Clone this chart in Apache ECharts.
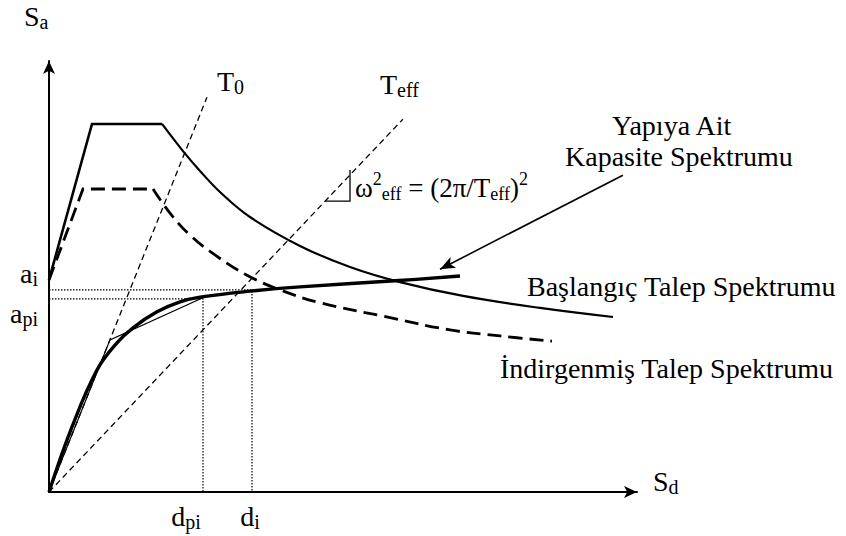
<!DOCTYPE html>
<html>
<head>
<meta charset="utf-8">
<script src="https://cdn.jsdelivr.net/npm/echarts@6/dist/echarts.min.js"></script>
<style>
  html, body { margin: 0; padding: 0; background: #fff; }
  #chart { width: 846px; height: 536px; }
</style>
</head>
<body>
<div id="chart"></div>
<script>
// Schematic ADRS plot: both axes on a 0–100 scale (Sd horizontal, Sa vertical).
const initialDemandRise = [[0, 49.2], [7.31, 85.4], [19.22, 85.4]];
const initialDemandDecay = [[19.22, 85.4], [22.79, 79.1], [25.68, 74.5], [29.08, 69.6], [34.18, 63.8],
  [42.69, 57.1], [51.19, 52.2], [59.69, 48.7], [70.41, 45.5], [83.5, 42.7], [95.92, 40.6]];
const reducedDemandRise = [[0, 49.2], [5.78, 70.3], [17.69, 70.3]];
const reducedDemandDecay = [[17.69, 70.3], [20.58, 64.7], [23.98, 59.6], [28.23, 55.0], [33.67, 50.3],
  [39.29, 46.9], [46.09, 43.9], [56.8, 40.8], [68.2, 37.6], [76.7, 36.2], [85.54, 35.0]];
const capacityCurve = [[0, 0], [3.91, 15.1], [8.16, 28.3], [11.56, 34.6], [14.29, 38.1], [18.37, 41.8],
  [22.28, 44.1], [25.68, 45.2], [34.18, 46.6], [42.69, 47.6], [58.84, 49.0], [69.9, 50.1]];
const bilinearCapacity = [[0, 0], [10.37, 35.3], [26.36, 45.2]];
const periodT0 = [[0, 0], [26.87, 91.6]];
const periodTeff = [[0, 0], [60.2, 86.5]];
const pointI = { d: 34.52, a: 46.9 };    // (d_i, a_i)
const pointPI = { d: 26.19, a: 44.8 };   // (d_pi, a_pi)
const calloutArrow = [[97.6, 73.5], [66.5, 51.7]];
const slopeMarker = [[46.94, 67.5], [51.19, 67.5], [51.19, 74.7]];

const SERIF = '"Liberation Serif", "Times New Roman", serif';
const INK = '#000';

const chart = echarts.init(document.getElementById('chart'), null, { renderer: 'svg' });

function lineSeries(data, width, type, smooth) {
  return {
    type: 'line', data: data, symbol: 'none', showSymbol: false, silent: true,
    smooth: smooth ? 0.4 : false,
    lineStyle: { color: INK, width: width, type: type || 'solid', cap: 'butt', join: 'miter' },
    z: 3
  };
}

const axisCommon = {
  type: 'value', min: 0, max: 100,
  axisTick: { show: false }, axisLabel: { show: false }, splitLine: { show: false },
  axisLine: { show: true, symbol: ['none', 'arrow'], symbolSize: [9, 13],
    lineStyle: { color: INK, width: 2 } }
};

chart.setOption({
  animation: false,
  grid: { left: 49, right: 209, top: 61, bottom: 44 },
  xAxis: Object.assign({}, axisCommon),
  yAxis: Object.assign({}, axisCommon),
  series: [
    lineSeries(initialDemandRise, 2.6),
    lineSeries(initialDemandDecay, 2.2, 'solid', true),
    lineSeries(reducedDemandRise, 2.8, [14, 7]),
    lineSeries(reducedDemandDecay, 2.8, [14, 7], true),
    lineSeries(periodT0, 1.3, [6, 4]),
    lineSeries(periodTeff, 1.3, [6, 4]),
    lineSeries(bilinearCapacity, 1.2),
    lineSeries(capacityCurve, 3.4, 'solid', true),
    lineSeries([[0, pointI.a], [pointI.d, pointI.a], [pointI.d, 0]], 1.2, [1.5, 1.5]),
    lineSeries([[0, pointPI.a], [pointPI.d, pointPI.a], [pointPI.d, 0]], 1.2, [1.5, 1.5]),
    lineSeries(slopeMarker, 1.3),
    {
      type: 'line', data: [], silent: true,
      markLine: {
        silent: true, symbol: ['none', 'arrow'], symbolSize: [9, 15],
        label: { show: false },
        lineStyle: { color: INK, width: 1.6, type: 'solid' },
        data: [[{ coord: calloutArrow[0] }, { coord: calloutArrow[1] }]]
      }
    }
  ]
});

// Rich-text styles for labels with subscripts / superscripts
function richSet(main, sub) {
  return {
    m: { fontFamily: SERIF, fontSize: main, fill: INK },
    s: { fontFamily: SERIF, fontSize: sub, fill: INK, padding: [Math.round(main * 0.4), 0, 0, 0] },
    p: { fontFamily: SERIF, fontSize: sub, fill: INK, padding: [0, 0, Math.round(main * 0.65), 0] }
  };
}
const R28 = richSet(28, 20);
const R27 = richSet(27, 18);

function label(text, x, y, align, rich) {
  return {
    type: 'text', x: x, y: y, silent: true, z: 10,
    style: { text: text, rich: rich || R28, align: align || 'left', verticalAlign: 'middle',
      fontFamily: SERIF, fontSize: 28, fill: INK }
  };
}

const px = (d, a) => chart.convertToPixel({ gridIndex: 0 }, [d, a]);
const pI = px(pointI.d, pointI.a);
const pPI = px(pointPI.d, pointPI.a);
const origin = px(0, 0);

chart.setOption({
  graphic: [
    label('{m|S}{s|a}', 24, 16),
    label('{m|S}{s|d}', 653, 481),
    label('{m|T}{s|0}', 217, 81),
    label('{m|T}{s|eff}', 380, 84),
    label('{m|ω}{p|2}{s|eff}{m| = (2π/T}{s|eff}{m|)}{p|2}', 355, 188, 'left', R27),
    label('{m|a}{s|i}', 38, pI[1] - 16, 'right'),
    label('{m|a}{s|pi}', 38, pPI[1] + 15, 'right'),
    label('{m|d}{s|pi}', pPI[0] - 17, origin[1] + 24, 'center'),
    label('{m|d}{s|i}', pI[0] - 2, origin[1] + 24, 'center'),
    label('{m|Yapıya Ait}', 612, 125),
    label('{m|Kapasite Spektrumu}', 565, 156),
    label('{m|Başlangıç Talep Spektrumu}', 527, 286),
    label('{m|İndirgenmiş Talep Spektrumu}', 500, 368)
  ]
});
</script>
</body>
</html>
